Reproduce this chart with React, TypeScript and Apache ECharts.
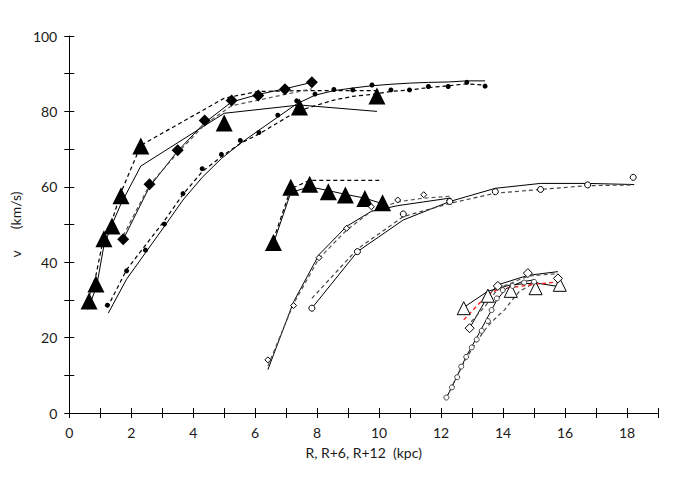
import React, { useEffect, useRef } from "react";
import * as echarts from "echarts";

// ---------- Group 1 (R) ----------
const triA = [[0.64,29.7],[0.86,34.2],[1.12,46.2],[1.38,49.6],[1.67,57.6],[2.31,70.8],[5.0,76.9],[7.43,81.2],[9.93,84.1]];
const triASolid = [[0.6,27.5],[0.88,33.5],[1.12,44.5],[1.38,50],[1.67,55.5],[2.31,65.5],[5.0,79.5],[7.43,81.7],[9.93,80]];
const triADashed = [[0.64,31],[0.86,36.5],[1.12,47],[1.38,51],[1.67,58.5],[2.31,71],[5.0,83.5],[6.1,85.3],[7.43,85.5],[9.93,85.5]];

const diaA = [[1.74,46.1],[2.59,60.7],[3.5,69.7],[4.37,77.6],[5.24,82.9],[6.1,84.2],[6.96,85.9],[7.83,87.7]];
const diaASolid = [[1.74,46],[2.59,60],[3.5,69.5],[4.37,77],[5.24,82.5],[6.1,84.5],[6.96,86],[7.83,87.7]];
const diaADashed = [[1.74,47],[2.59,60.5],[3.5,69],[4.37,76.5],[5.24,81.5],[6.1,83],[6.96,84.5],[7.83,86]];

const dotA = [[1.23,28.6],[1.85,37.7],[2.46,43.2],[3.07,50.1],[3.67,58.2],[4.29,64.8],[4.91,68.6],[5.52,72.3],[6.12,74.4],[6.73,79.0],[7.34,82.8],[7.93,84.6],[8.54,85.8],[9.15,85.7],[9.77,87.0],[10.38,85.7],[10.98,85.7],[11.59,86.6],[12.23,86.6],[12.83,87.7],[13.42,86.7]];
const dotASolid = [[1.26,26.5],[1.85,35.5],[2.46,42.5],[3.07,49.5],[3.67,56.5],[4.29,62.5],[4.91,67.5],[5.52,71.5],[6.12,75],[6.73,78.5],[7.34,82],[7.93,84.3],[8.54,85.5],[9.15,86.2],[9.77,86.8],[10.38,87.2],[10.98,87.5],[11.59,87.7],[12.23,87.8],[12.83,88.1],[13.42,88.1]];
const dotADashed = [[1.23,28],[1.85,38],[2.46,44.5],[3.07,51],[3.67,58],[4.29,64],[4.91,68],[5.52,71.5],[6.12,74],[6.73,77],[7.34,80],[7.93,81.5],[8.54,83],[9.15,84],[9.77,84.5],[10.38,85.3],[10.98,85.7],[11.59,86.3],[12.23,86.8],[12.83,87.3],[13.42,87]];

// ---------- Group 2 (R+6) ----------
const triB = [[6.59,45.2],[7.15,59.9],[7.76,60.7],[8.36,58.7],[8.91,57.8],[9.54,56.9],[10.11,55.8]];
const triBSolid = [[6.59,45],[7.15,58.5],[7.76,60],[8.36,59],[8.91,58],[9.54,57],[10.11,55.5]];
const triBDashed = [[6.59,46],[7.15,59.5],[7.76,61.7],[8.9,61.7],[10.11,61.7]];

const diaB = [[6.41,14.1],[7.24,28.5],[8.06,41.2],[8.95,49.0],[9.75,54.7],[10.6,56.5],[11.44,57.9],[12.28,56.3]];
const diaBSolid = [[6.41,11.5],[7.24,29.5],[8.06,42],[8.95,49.5],[9.75,53.5],[10.6,55],[11.44,56],[12.28,57]];
const diaBDashed = [[6.41,12.5],[7.24,29],[8.06,41],[8.95,48.5],[9.75,53.5],[10.6,56],[11.44,57],[12.28,57.5]];

const cirB = [[7.83,27.8],[9.3,42.8],[10.78,52.8],[12.28,56.1],[13.75,58.7],[15.21,59.3],[16.73,60.5],[18.2,62.5]];
const cirBSolid = [[7.83,27.8],[9.3,42.8],[10.78,51.2],[12.28,56.1],[13.75,59.6],[15.21,60.9],[16.73,60.9],[18.23,60.6]];
const cirBDashed = [[7.83,30.4],[9.3,43.5],[10.78,52.1],[12.28,55.6],[13.75,58.3],[15.21,59.3],[16.73,60.3],[18.23,60.5]];

// ---------- Group 3 (R+12) ----------
const triC = [[12.73,27.8],[13.51,31.1],[14.25,32.4],[15.05,33.1],[15.83,34.0]];
const triCSolid = [[12.73,28],[13.51,32.3],[14.25,34],[15.05,34.5],[15.83,33.5]];

const diaC = [[12.92,22.5],[13.83,33.7],[14.8,37.1],[15.77,35.7]];
const diaCSolid = [[12.92,22.5],[13.51,31],[13.83,34],[14.8,36.5],[15.77,37.5]];
const diaCDashed = [[12.97,24.2],[13.45,28.6],[13.83,33],[14.8,36.3],[15.77,37]];

const cirC = [[12.17,4.1],[12.35,6.8],[12.52,9.5],[12.65,12.3],[12.81,14.9],[12.99,17.4],[13.15,19.5],[13.31,21.8],[13.51,24.4],[13.63,27.3],[13.8,30.4],[13.99,32.6],[14.31,33.7],[14.68,34.6],[15.0,34.8]];
const cirCSolid = [[12.17,4],[12.5,9.5],[12.81,15],[13.15,20],[13.51,25.5],[13.8,30],[14.1,33],[14.6,34.8],[15.0,35.3]];
const cirCDashed = [[12.17,4],[12.5,9.5],[12.81,14.5],[13.15,19],[13.5,23],[13.8,25.5],[14.04,27.3],[14.3,30],[14.52,32.2],[14.9,34],[15.2,34.8]];

const redC = [[12.73,24.7],[13.51,31.5],[13.85,32.8],[15.05,34.2],[15.83,34.8]];

const xName = "R, R+6, R+12  (kpc)";
const yName = "v      (km/s)";

const FONT = "Lato";
const TXT = "#1a1a1a";

function solid(data: number[][], color = "#000", width = 1) {
  return { type: "line", data, showSymbol: false, symbol: "none", z: 2, lineStyle: { color, width, type: "solid" } };
}
function dashed(data: number[][], color = "#000", width = 1.2) {
  return { type: "line", data, showSymbol: false, symbol: "none", z: 2, lineStyle: { color, width, type: [4, 3] } };
}
function marks(data: number[][], symbol: string, size: number, filled: boolean, border = "#000") {
  return {
    type: "scatter",
    data,
    symbol,
    symbolSize: size,
    z: 3,
    itemStyle: filled
      ? { color: "#000", borderColor: "#000", borderWidth: 0, opacity: 1 }
      : { color: "#fff", borderColor: border, borderWidth: 1, opacity: 1 },
  };
}

export default function App() {
  const ref = useRef<HTMLDivElement>(null);
  useEffect(() => {
    if (!ref.current) return;
    const chart = echarts.init(ref.current, undefined, { renderer: "svg" });
    const axisLine = { show: true, lineStyle: { color: "#000", width: 1 } };
    chart.setOption({
      animation: false,
      backgroundColor: "#fff",
      grid: { left: 65, right: 19, top: 36, bottom: 67, containLabel: false },
      xAxis: [
        {
          type: "value", min: 0, max: 19, interval: 1, position: "bottom",
          name: xName, nameLocation: "middle", nameGap: 32,
          nameTextStyle: { fontFamily: FONT, fontSize: 14, color: TXT },
          axisLine, splitLine: { show: false },
          axisTick: { show: true, length: 5, lineStyle: { color: "#000" } },
          axisLabel: { margin: 12, fontFamily: FONT, fontSize: 14, color: TXT,
            formatter: (v: number) => (v % 2 === 0 ? String(v) : "") },
        },
        {
          type: "value", min: 0, max: 19, interval: 1, position: "bottom",
          axisLine: { show: false }, splitLine: { show: false }, axisLabel: { show: false },
          axisTick: { show: true, inside: true, length: 5, lineStyle: { color: "#000" } },
        },
      ],
      yAxis: [
        {
          type: "value", min: 0, max: 100, interval: 10, position: "left",
          name: yName, nameLocation: "middle", nameGap: 42, nameRotate: 90,
          nameTextStyle: { fontFamily: FONT, fontSize: 14, color: TXT },
          axisLine, splitLine: { show: false },
          axisTick: { show: true, length: 5, lineStyle: { color: "#000" } },
          axisLabel: { margin: 12, fontFamily: FONT, fontSize: 14, color: TXT,
            formatter: (v: number) => (v % 20 === 0 ? String(v) : "") },
        },
        {
          type: "value", min: 0, max: 100, interval: 10, position: "left",
          axisLine: { show: false }, splitLine: { show: false }, axisLabel: { show: false },
          axisTick: { show: true, inside: true, length: 5, lineStyle: { color: "#000" } },
        },
      ],
      series: [
        solid(triASolid), dashed(triADashed),
        solid(diaASolid), dashed(diaADashed, "#555"),
        solid(dotASolid), dashed(dotADashed),
        solid(triBSolid), dashed(triBDashed),
        solid(diaBSolid), dashed(diaBDashed, "#555"),
        solid(cirBSolid), dashed(cirBDashed, "#444"),
        solid(triCSolid),
        solid(diaCSolid), dashed(diaCDashed, "#555"),
        solid(cirCSolid), dashed(cirCDashed, "#444"),
        dashed(redC, "#ff2020", 1.4),
        marks(triA, "triangle", 17, true),
        marks(diaA, "diamond", 12, true),
        marks(dotA, "circle", 5, true),
        marks(triB, "triangle", 17, true),
        marks(diaB, "diamond", 6, false),
        marks(cirB, "circle", 6, false),
        marks(triC, "triangle", 13, false),
        marks(diaC, "diamond", 9, false),
        marks(cirC, "circle", 5, false, "#444"),
      ],
    });
    return () => chart.dispose();
  }, []);
  return <div ref={ref} style={{ width: 677, height: 480, margin: -8 }} />;
}
